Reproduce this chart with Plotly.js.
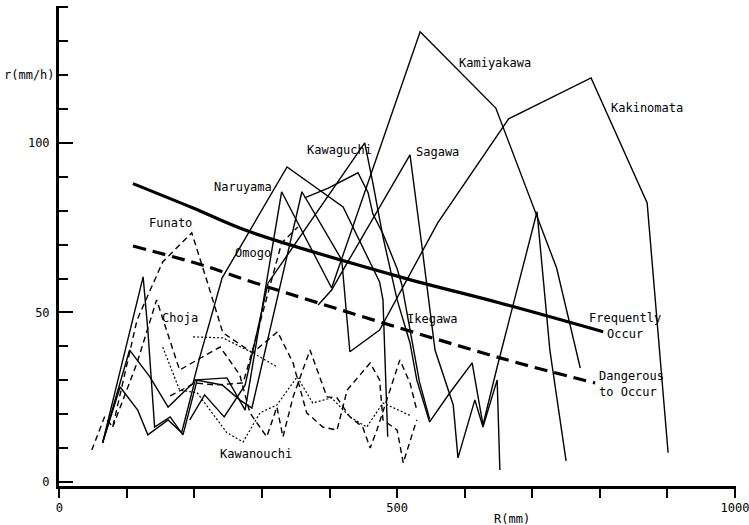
<!DOCTYPE html>
<html>
<head>
<meta charset="utf-8">
<script src="https://cdn.plot.ly/plotly-3.0.1.min.js"></script>
<style>html,body{margin:0;padding:0;background:#fff;}#chart{width:749px;height:525px;}</style>
</head>
<body>
<div id="chart"></div>
<script>
// Threshold curves (R in mm, r in mm/h)
const frequentR = [109, 198, 279, 504, 652, 805];
const frequentr = [88, 80.8, 74, 60.5, 52.8, 44.3];
const dangerR = [109, 218, 282, 652, 793];
const dangerr = [69.6, 63.6, 59.2, 36.6, 29.2];

// Solid rainfall records
const naruyamaR = [64, 104, 134, 161, 198, 208, 241, 337, 420, 474, 479, 486];
const naruyamar = [11.5, 38.9, 31, 22.1, 29.2, 36.9, 60.2, 92.9, 81.1, 59, 53.7, 13.3];

const kamiyakawaR = [64, 124, 131, 141, 164, 183, 204, 248, 275, 329, 403, 534, 646, 704, 736, 771];
const kamiyakawar = [11.5, 60.5, 44.8, 16.2, 19.2, 13.9, 30.1, 30.7, 21.2, 85.6, 57.2, 132.8, 110.3, 80.2, 63.1, 33.6];

const kakinomataR = [64, 90, 116, 131, 161, 181, 201, 241, 267, 285, 359, 418, 430, 474, 560, 665, 787, 870, 901];
const kakinomatar = [11.5, 28, 21.2, 13.9, 18.3, 14.5, 30.1, 28.6, 24.2, 21.8, 85.6, 65.5, 38.4, 44.8, 76.4, 107.1, 119.2, 82.3, 8.6];

const kawaguchiR = [193, 215, 244, 275, 309, 374, 452, 464, 479, 500, 519, 529, 548, 578, 611, 618, 627, 648, 707, 726, 750];
const kawaguchir = [18.3, 25.7, 19.2, 28.6, 58.7, 77.3, 100, 88.2, 72.3, 53.7, 41, 30.1, 17.7, 26.3, 35.1, 27.1, 16.8, 33.9, 79.7, 38.9, 6.2];

const sagawaR = [383, 403, 426, 519, 537, 556, 583, 590, 615, 627, 648, 652];
const sagawar = [52.2, 56.6, 64.6, 96.5, 69, 38.9, 22.7, 7.1, 24.2, 16.2, 30.1, 3.5];

const ikegawaR = [363, 398, 442, 457, 464, 479, 500, 507, 533, 548];
const ikegawar = [83.8, 86.7, 91.2, 85.3, 79.1, 73.2, 62.9, 58.1, 29.5, 18.6];

// Dashed records
const funatoR = [48, 67, 79, 115, 153, 196, 218, 242, 286, 323, 346, 366, 390, 411, 426, 460, 474, 479, 500, 509, 529];
const funator = [9.4, 19.2, 16.2, 47.8, 64.9, 73.5, 59.6, 44, 38.1, 44.3, 35.1, 20.4, 16.2, 15.3, 27.1, 35.1, 30.1, 18.3, 15.3, 5.6, 18.3];

const chojaR = [79, 115, 144, 178, 204, 238, 267, 282, 307, 322, 331, 346, 371, 396, 411, 430, 449, 460, 470, 504, 519, 529];
const chojar = [16.2, 35.1, 53.7, 33, 36, 39.8, 31.6, 20.4, 13.3, 22.1, 13.3, 25.1, 38.9, 25.1, 24.8, 19.2, 16.2, 10, 15.3, 36, 29.2, 21.2];

const omogoR = [164, 201, 230, 272, 286, 329, 353];
const omogor = [25.4, 29.2, 28.6, 29.2, 38.9, 70.5, 75.2];

// Dotted records
const kawanouchiR = [153, 178, 204, 233, 248, 272, 297, 322, 352, 375, 403, 430, 455, 479, 519];
const kawanouchir = [39.8, 27.1, 26.3, 18.3, 14.5, 11.8, 20.4, 22.7, 31, 23.3, 24.8, 19.2, 16.2, 23.3, 19.6];

const dottedR = [198, 242, 286, 322];
const dottedr = [42.8, 42.5, 38.1, 34];

// Tick labels
const xTickVals = [0, 100, 200, 300, 400, 500, 600, 700, 800, 900, 1000];
const xTickText = ['0', '', '', '', '', '500', '', '', '', '', '1000'];
const yTickVals = [0, 50, 100];
const yTickText = ['0', '50', '100'];

// Labels
const labelText = ['Kamiyakawa', 'Kakinomata', 'Sagawa', 'Kawaguchi', 'Naruyama', 'Funato', 'Omogo', 'Choja', 'Kawanouchi', 'Ikegawa'];
const labelR = [645, 870, 559, 414, 272, 165, 286, 178, 291, 553];
const labelr = [123.6, 110.3, 97.4, 97.9, 87, 76.4, 67.6, 48.4, 8.3, 48.1];

const FONT = 'DejaVu Sans Mono, monospace';

function line(x, y, width, dash, shape) {
  return {x: x, y: y, type: 'scatter', mode: 'lines', hoverinfo: 'skip', cliponaxis: false,
    line: {color: '#000', width: width, dash: dash || 'solid', shape: shape || 'linear', smoothing: 1}};
}

const traces = [
  line(frequentR, frequentr, 3.2, 'solid', 'spline'),
  line(dangerR, dangerr, 3.2, '13px,7px', 'spline'),
  line(naruyamaR, naruyamar, 1.4),
  line(kamiyakawaR, kamiyakawar, 1.4),
  line(kakinomataR, kakinomatar, 1.4),
  line(kawaguchiR, kawaguchir, 1.4),
  line(sagawaR, sagawar, 1.4),
  line(ikegawaR, ikegawar, 1.4),
  line(funatoR, funator, 1.4, '6px,4px'),
  line(chojaR, chojar, 1.4, '6px,4px'),
  line(omogoR, omogor, 1.4, '6px,4px'),
  line(kawanouchiR, kawanouchir, 1.2, '2px,2px'),
  line(dottedR, dottedr, 1.2, '2px,2px')
];

const annotations = labelText.map((t, i) => ({
  x: labelR[i], y: labelr[i], xref: 'x', yref: 'y', text: t, showarrow: false,
  xanchor: 'center', yanchor: 'middle', font: {family: FONT, size: 12, color: '#000'}
}));
annotations.push({x: 837, y: 46, xref: 'x', yref: 'y', text: 'Frequently<br>Occur', showarrow: false,
  xanchor: 'center', yanchor: 'middle', align: 'center', font: {family: FONT, size: 12, color: '#000'}});
annotations.push({x: 796, y: 28.8, xref: 'x', yref: 'y', text: 'Dangerous<br>to Occur', showarrow: false,
  xanchor: 'left', yanchor: 'middle', align: 'left', font: {family: FONT, size: 12, color: '#000'}});
annotations.push({x: -0.043, y: 0.857, xref: 'paper', yref: 'paper', text: 'r(mm/h)', showarrow: false,
  xanchor: 'center', yanchor: 'middle', font: {family: FONT, size: 12, color: '#000'}});
annotations.push({x: 670, y: -0.068, xref: 'x', yref: 'paper', text: 'R(mm)', showarrow: false,
  xanchor: 'center', yanchor: 'middle', font: {family: FONT, size: 12, color: '#000'}});

const layout = {
  width: 749, height: 525,
  margin: {l: 59, r: 13, t: 6, b: 39, pad: 0},
  paper_bgcolor: '#fff', plot_bgcolor: '#fff',
  showlegend: false, hovermode: false,
  font: {family: FONT, size: 12, color: '#000'},
  xaxis: {range: [-0.5, 1001.5], showgrid: false, zeroline: false, showline: true, linecolor: '#000', linewidth: 2.5,
    ticks: 'outside', ticklen: 9, tickwidth: 2, tickcolor: '#000', tickvals: xTickVals, ticktext: xTickText,
    ticklabeloverflow: 'allow', automargin: false,
    tickfont: {family: FONT, size: 12, color: '#000'}},
  yaxis: {range: [-1.2, 140.4], showgrid: false, zeroline: false, showline: true, linecolor: '#000', linewidth: 3,
    ticks: 'inside', ticklen: 14, tickwidth: 2, tickcolor: '#000', tickvals: yTickVals, ticktext: yTickText,
    tickfont: {family: FONT, size: 12, color: '#000'}, ticklabelstandoff: 4,
    minor: {tickvals: [10, 20, 30, 40, 60, 70, 80, 90, 110, 120, 130, 140], ticks: 'inside', ticklen: 9, tickwidth: 2, tickcolor: '#000', showgrid: false}},
  annotations: annotations
};

Plotly.newPlot('chart', traces, layout, {displayModeBar: false, staticPlot: true});
</script>
</body>
</html>
